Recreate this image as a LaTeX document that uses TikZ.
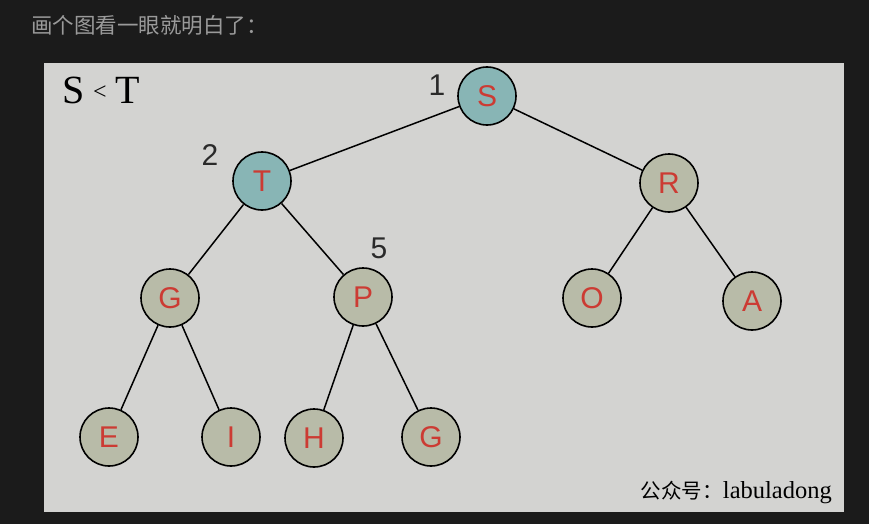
\documentclass[tikz,border=0pt]{standalone}
\usepackage{fontspec}
\newfontfamily\cjk{Noto Sans CJK SC}
\newfontfamily\handfont{Liberation Sans}
\newfontfamily\serifx{Liberation Serif}
\begin{document}
\begin{tikzpicture}[x=1pt,y=-1pt,
  tnode/.style={circle,draw=black,line width=1.6pt,minimum size=58pt,inner sep=0pt,fill=nodegray,text=letterred,font=\handfont\fontsize{30}{30}\selectfont},
  teal/.style={fill=nodeteal},
  edge/.style={line width=1.5pt,black},
  num/.style={text=numgray,font=\handfont\fontsize{30}{30}\selectfont,inner sep=0pt}]
\definecolor{bgdark}{HTML}{1B1B1B}
\definecolor{panel}{HTML}{D3D3D1}
\definecolor{nodegray}{HTML}{B8BBA8}
\definecolor{nodeteal}{HTML}{88B5B5}
\definecolor{letterred}{HTML}{CC3B33}
\definecolor{numgray}{HTML}{2A2A2A}
\definecolor{headgray}{HTML}{9A9A9A}
\useasboundingbox (0,0) rectangle (869,524);
\fill[bgdark] (0,0) rectangle (869,524);
\fill[panel] (44,63) rectangle (844,512);
\node[anchor=west,text=headgray,font=\cjk\fontsize{21.5}{21.5}\selectfont,inner sep=0pt] (head) at (31,25) {画个图看一眼就明白了：};
% S < T
\node[anchor=base west,inner sep=0pt,font=\serifx\fontsize{40}{40}\selectfont] (s1) at (62,103) {S};
\node[anchor=base,inner sep=0pt,font=\serifx\fontsize{24}{24}\selectfont] (lt) at (100,100) {<};
\node[anchor=base west,inner sep=0pt,font=\serifx\fontsize{40}{40}\selectfont] (t1) at (115,103) {T};
% nodes
\node[tnode,teal] (S) at (487,96) {S};
\node[tnode,teal] (T) at (262,181) {T};
\node[tnode] (R) at (669,183) {R};
\node[tnode] (G) at (170,298) {G};
\node[tnode] (P) at (363,297) {P};
\node[tnode] (O) at (592,298) {O};
\node[tnode] (A) at (752,301) {A};
\node[tnode] (E) at (109,437) {E};
\node[tnode] (I) at (231,437) {I};
\node[tnode] (H) at (314,438) {H};
\node[tnode] (G2) at (431,437) {G};
% edges
\draw[edge] (S) -- (T);
\draw[edge] (S) -- (R);
\draw[edge] (T) -- (G);
\draw[edge] (T) -- (P);
\draw[edge] (R) -- (O);
\draw[edge] (R) -- (A);
\draw[edge] (G) -- (E);
\draw[edge] (G) -- (I);
\draw[edge] (P) -- (H);
\draw[edge] (P) -- (G2);
% order numbers
\node[num] (n1) at (437,85) {1};
\node[num] (n2) at (210,155) {2};
\node[num] (n5) at (379,248) {5};
% watermark
\node[anchor=base east,inner sep=0pt,text=black] (wm) at (832,498) {{\cjk\fontsize{20.5}{20.5}\selectfont 公众号：}{\serifx\fontsize{24.5}{24.5}\selectfont labuladong}};
\end{tikzpicture}
\end{document}
